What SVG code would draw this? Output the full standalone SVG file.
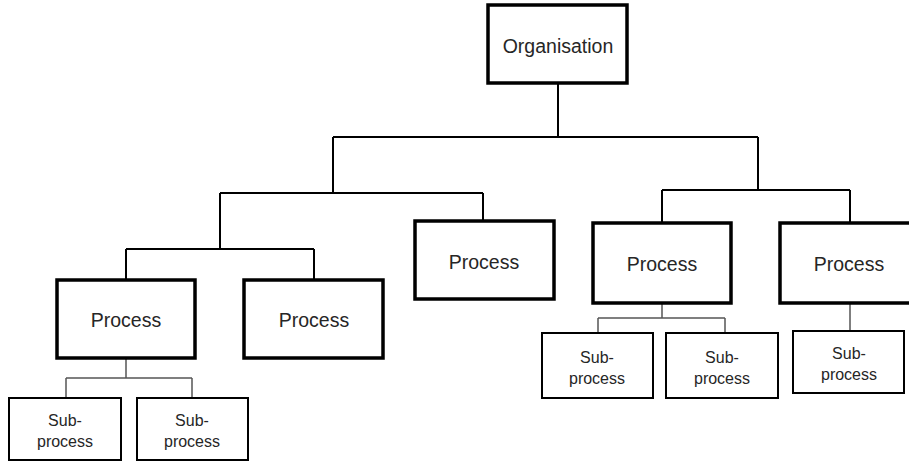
<svg xmlns="http://www.w3.org/2000/svg" width="909" height="462" viewBox="0 0 909 462">
<style>
.big{fill:#fff;stroke:#000;stroke-width:3.5}
.small{fill:#fff;stroke:#000;stroke-width:2}
.t{font-family:"Liberation Sans",Arial,sans-serif;fill:#262626;text-anchor:middle;dominant-baseline:central}
.tb{font-size:19.5px}
.ts{font-size:16px}
.c{fill:none;stroke:#000;stroke-width:2}
.cs{fill:none;stroke:#555;stroke-width:1.5}
</style>
<rect width="909" height="462" fill="#fff"/>
<g id="connectors">
<path class="c" d="M558 83V137M333 137H758M333 137V193M220 193H483M483 193V221M220 193V249M126 249H314M126 249V280M314 249V280M758 137V190M662 190H850M662 190V223M850 190V223"/>
<path class="cs" d="M126 358V378M66 378H192M66 378V398M192 378V398M662 303V318M598 318H725M598 318V333M725 318V333M850 303V331"/>
</g>
<g id="organisation"><rect class="big" x="488" y="5" width="139" height="78"/><text class="t tb" x="558" y="46">Organisation</text></g>
<g id="process1"><rect class="big" x="57" y="280" width="138" height="78"/><text class="t tb" x="126" y="320">Process</text></g>
<g id="process2"><rect class="big" x="244" y="280" width="139" height="78"/><text class="t tb" x="314" y="320">Process</text></g>
<g id="process3"><rect class="big" x="415" y="221" width="139" height="78"/><text class="t tb" x="484" y="262">Process</text></g>
<g id="process4"><rect class="big" x="593" y="223" width="138" height="80"/><text class="t tb" x="662" y="264">Process</text></g>
<g id="process5"><rect class="big" x="780" y="223" width="140" height="80"/><text class="t tb" x="849" y="264">Process</text></g>
<g id="sub1"><rect class="small" x="9" y="398" width="112" height="62"/><text class="t ts" x="65" y="420">Sub-</text><text class="t ts" x="65" y="441">process</text></g>
<g id="sub2"><rect class="small" x="137" y="398" width="111" height="62"/><text class="t ts" x="192" y="420">Sub-</text><text class="t ts" x="192" y="441">process</text></g>
<g id="sub3"><rect class="small" x="542" y="333" width="111" height="65"/><text class="t ts" x="597" y="357">Sub-</text><text class="t ts" x="597" y="378">process</text></g>
<g id="sub4"><rect class="small" x="666" y="333" width="112" height="65"/><text class="t ts" x="722" y="357">Sub-</text><text class="t ts" x="722" y="378">process</text></g>
<g id="sub5"><rect class="small" x="793" y="331" width="111" height="62"/><text class="t ts" x="849" y="353">Sub-</text><text class="t ts" x="849" y="374">process</text></g>
</svg>
